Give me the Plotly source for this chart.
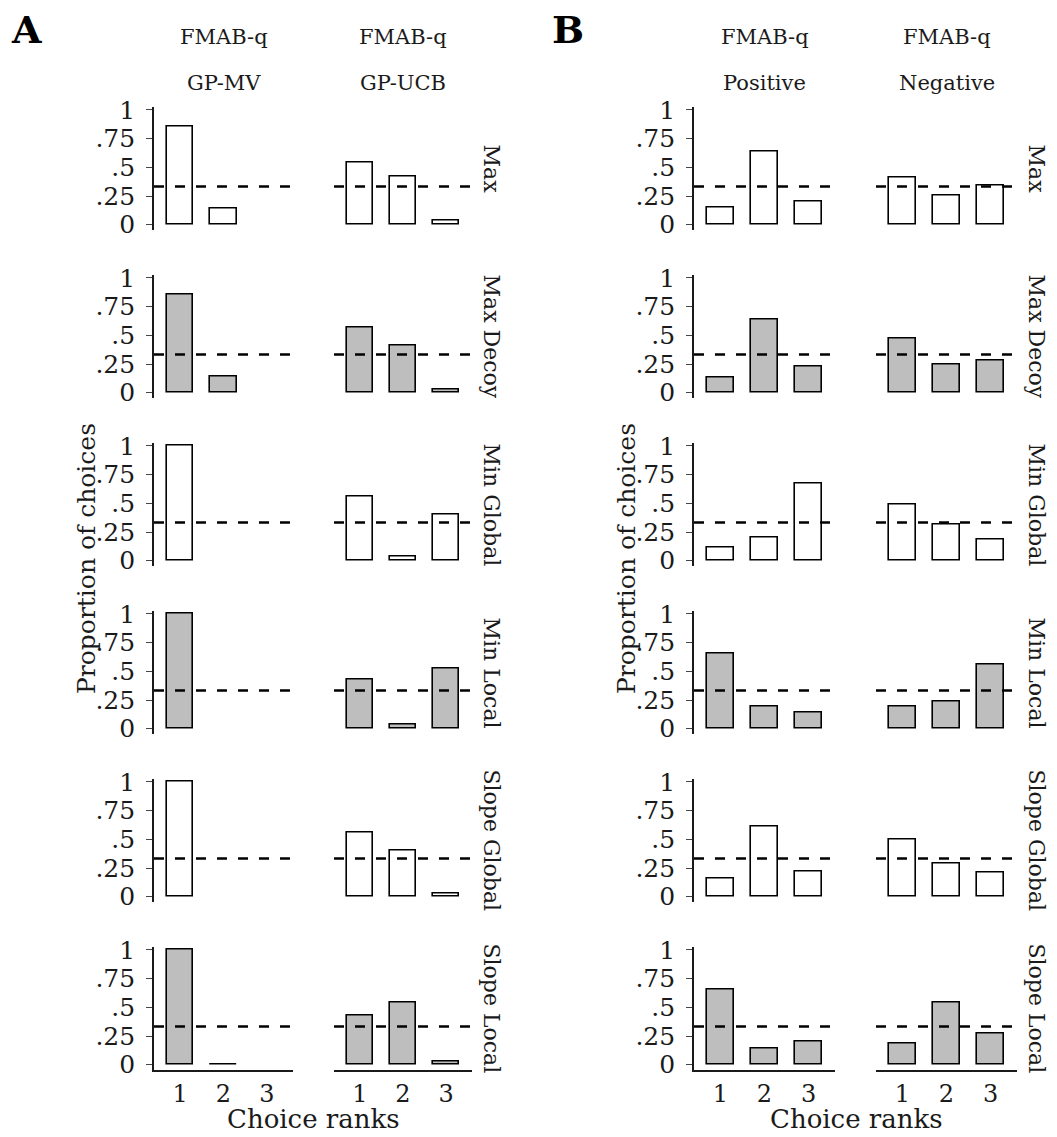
import plotly.graph_objects as go

# ---- data -------------------------------------------------------------
ranks = [1, 2, 3]
rank_labels = ["1", "2", "3"]
conditions = ["Max", "Max Decoy", "Min Global", "Min Local", "Slope Global", "Slope Local"]
chance = 1 / 3

# Panel A: FMAB-q vs GP-MV / GP-UCB (None = rank never chosen, no bar)
gp_mv = [
    [0.855, 0.142, None],
    [0.860, 0.140, None],
    [1.000, None, None],
    [1.000, None, None],
    [1.000, None, None],
    [1.000, 0.005, None],
]
gp_ucb = [
    [0.540, 0.424, 0.035],
    [0.567, 0.407, 0.030],
    [0.555, 0.035, 0.398],
    [0.430, 0.038, 0.523],
    [0.561, 0.405, 0.029],
    [0.428, 0.543, 0.029],
]
# Panel B: FMAB-q Positive / Negative
positive = [
    [0.148, 0.642, 0.206],
    [0.134, 0.634, 0.230],
    [0.116, 0.206, 0.669],
    [0.654, 0.189, 0.145],
    [0.162, 0.613, 0.223],
    [0.656, 0.145, 0.200],
]
negative = [
    [0.413, 0.253, 0.340],
    [0.474, 0.244, 0.279],
    [0.491, 0.317, 0.183],
    [0.192, 0.238, 0.555],
    [0.494, 0.292, 0.211],
    [0.185, 0.543, 0.269],
]
ytick_vals = [0, 0.25, 0.5, 0.75, 1]
ytick_text = ["0", ".25", ".5", ".75", "1"]
col_titles = [("FMAB-q", "GP-MV"), ("FMAB-q", "GP-UCB"),
              ("FMAB-q", "Positive"), ("FMAB-q", "Negative")]

# ---- layout geometry (pixels) -----------------------------------------
W, H = 1057, 1137
FONT = "DejaVu Serif"
INK = "#1a1a1a"
col_px = [(154, 293), (334, 472), (694, 835), (876, 1017)]
YR = [-0.05, 1.03]
UNIT = 114.7           # pixels per 1.0 on the y scale
ROW0 = 224.7           # pixel of y=0 in the first row
ROWSTEP = 168.0
fills = ["white", "#bebebe"]


def px_x(v):
    return v / W


def px_y(v):
    return 1 - v / H


series = [gp_mv, gp_ucb, positive, negative]
fig = go.Figure()
layout = {}
annotations = []

for r in range(6):
    zero = ROW0 + ROWSTEP * r
    top_px = zero - YR[1] * UNIT
    bot_px = zero - YR[0] * UNIT
    for c in range(4):
        k = r * 4 + c + 1
        xa = "x" if k == 1 else f"x{k}"
        ya = "y" if k == 1 else f"y{k}"
        vals = series[c][r]
        fig.add_trace(go.Bar(
            x=ranks, y=vals, width=0.6, xaxis=xa, yaxis=ya,
            marker=dict(color=fills[r % 2], line=dict(color="black", width=1.6)),
            showlegend=False, hoverinfo="skip",
        ))
        fig.add_trace(go.Scatter(
            x=[0.4, 3.6], y=[chance, chance], mode="lines", xaxis=xa, yaxis=ya,
            line=dict(color="black", width=2.6, dash="10px,11px"),
            showlegend=False, hoverinfo="skip",
        ))
        bottom = r == 5
        left = c in (0, 2)
        xkey = "xaxis" if k == 1 else f"xaxis{k}"
        ykey = "yaxis" if k == 1 else f"yaxis{k}"
        layout[xkey] = dict(
            domain=[px_x(col_px[c][0]), px_x(col_px[c][1])],
            range=[0.4, 3.6], anchor=ya, fixedrange=True,
            showgrid=False, zeroline=False,
            showline=bottom, linecolor=INK, linewidth=1.6,
            tickvals=ranks, ticktext=rank_labels, ticks="",
            showticklabels=bottom, ticklabelstandoff=1,
            tickfont=dict(family=FONT, size=24, color=INK),
        )
        layout[ykey] = dict(
            domain=[px_y(bot_px), px_y(top_px)],
            range=YR, anchor=xa, fixedrange=True,
            showgrid=False, zeroline=False,
            showline=left, linecolor=INK, linewidth=1.6,
            tickvals=ytick_vals, ticktext=ytick_text,
            ticks="outside" if left else "", ticklen=6, tickwidth=1.4,
            tickcolor="#444", showticklabels=left, ticklabelstandoff=6,
            tickfont=dict(family=FONT, size=25, color=INK),
        )
    # condition strip labels on the right of each panel
    for sx in (492, 1037):
        annotations.append(dict(
            x=px_x(sx), y=px_y((top_px + bot_px) / 2), xref="paper", yref="paper",
            text=conditions[r], textangle=90, showarrow=False,
            font=dict(family=FONT, size=22, color=INK),
            xanchor="center", yanchor="middle",
        ))

# column headers
for c, (l1, l2) in enumerate(col_titles):
    cx = (col_px[c][0] + col_px[c][1]) / 2
    for txt, ypx in ((l1, 37), (l2, 83)):
        annotations.append(dict(
            x=px_x(cx), y=px_y(ypx), xref="paper", yref="paper", text=txt,
            showarrow=False, font=dict(family=FONT, size=21, color=INK),
            xanchor="center", yanchor="middle",
        ))

# panel letters
for letter, lx in (("A", 26), ("B", 568)):
    annotations.append(dict(
        x=px_x(lx), y=px_y(29), xref="paper", yref="paper",
        text=f"<b>{letter}</b>", showarrow=False,
        font=dict(family=FONT, size=38, color="black"),
        xanchor="center", yanchor="middle",
    ))

# shared axis titles
for tx, cx in ((87, 313), (627, 856)):
    annotations.append(dict(
        x=px_x(tx), y=px_y(559), xref="paper", yref="paper",
        text="Proportion of choices", textangle=-90, showarrow=False,
        font=dict(family=FONT, size=25, color=INK),
        xanchor="center", yanchor="middle",
    ))
    annotations.append(dict(
        x=px_x(cx), y=px_y(1119), xref="paper", yref="paper",
        text="Choice ranks", showarrow=False,
        font=dict(family=FONT, size=26, color=INK),
        xanchor="center", yanchor="middle",
    ))

fig.update_layout(
    width=W, height=H,
    margin=dict(l=0, r=0, t=0, b=0, autoexpand=False),
    paper_bgcolor="white", plot_bgcolor="white",
    bargap=0, annotations=annotations, **layout,
)

fig.write_html("out.html")
